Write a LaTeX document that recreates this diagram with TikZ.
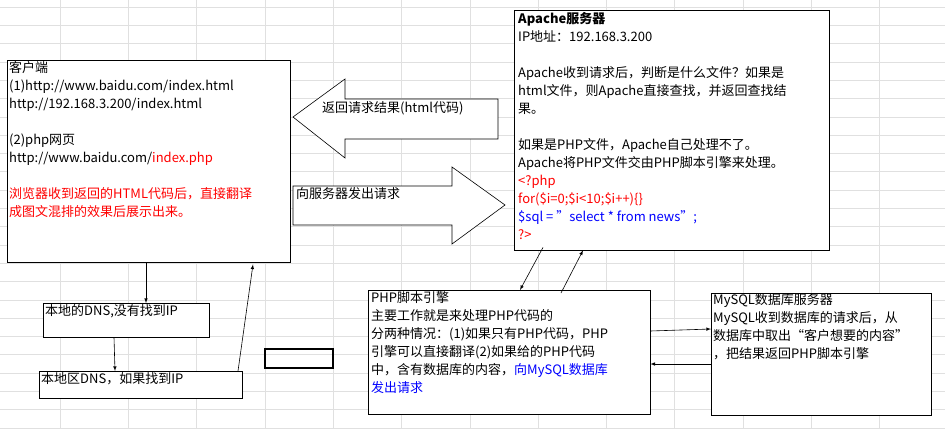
\documentclass[tikz,border=0pt]{standalone}
\usepackage{fontspec}
\setmainfont{Noto Sans CJK SC}
\usetikzlibrary{calc}

\tikzset{%
  >=latex,
  box/.style={draw, fill=white, anchor=north west, inner sep=0pt},
  txt/.style={anchor=north west, inner sep=0pt, align=left,
    font=\fontsize{13}{18}\selectfont},
  gridline/.style={draw=black!12, line width=0.6pt},
  link/.style={->, line width=0.6pt}
}

\begin{document}
\begin{tikzpicture}[x=1pt, y=-1pt]
  \useasboundingbox (0,0) rectangle (945,429);
  % sheet grid
  \foreach \x in {0,...,12} \draw[gridline] (60+68.3*\x,0) -- (60+68.3*\x,429);
  \foreach \y in {0,...,23} \draw[gridline] (0,7+18.3*\y) -- (945,7+18.3*\y);

  % boxes
  \node[box, minimum width=283pt, minimum height=202pt] (client) at (7,60) {};
  \node[box, minimum width=315pt, minimum height=240pt] (apache) at (514,10) {};
  \node[box, minimum width=282pt, minimum height=124pt] (engine) at (368,290) {};
  \node[box, minimum width=220pt, minimum height=122pt] (mysql) at (711,293) {};
  \node[box, minimum width=166pt, minimum height=34pt] (dnsa) at (43,303) {};
  \node[box, minimum width=203pt, minimum height=27pt] (dnsb) at (39,371) {};
  \draw[line width=1.6pt] (265,349) rectangle (333,368);

  % block arrows
  \draw[fill=white, line width=0.6pt] (293,117) -- (345,79) -- (345,99) -- (498,99)
    -- (498,139) -- (345,139) -- (345,158) -- cycle;
  \draw[fill=white, line width=0.6pt] (293,186) -- (452,186) -- (452,167) -- (505,205)
    -- (452,244) -- (452,225) -- (293,225) -- cycle;
  \node[txt] (back) at (322,101) {返回请求结果(html代码)};
  \node[txt] (send) at (296,187) {向服务器发出请求};

  % texts
  \node[txt] (clienttxt) at (9,61) {客户端\\
    (1)http://www.baidu.com/index.html\\
    http://192.168.3.200/index.html\\[18pt]
    (2)php网页\\
    http://www.baidu.com/\textcolor{red}{index.php}\\[18pt]
    \textcolor{red}{浏览器收到返回的HTML代码后，直接翻译}\\
    \textcolor{red}{成图文混排的效果后展示出来。}};
  \node[txt] (apachetxt) at (518,12) {\textbf{Apache服务器}\\
    IP地址：192.168.3.200\\[18pt]
    Apache收到请求后，判断是什么文件？如果是\\
    html文件，则Apache直接查找，并返回查找结\\
    果。\\[18pt]
    如果是PHP文件，Apache自己处理不了。\\
    Apache将PHP文件交由PHP脚本引擎来处理。\\
    \textcolor{red}{<?php}\\
    \textcolor{red}{for(\$i=0;\$i<10;\$i++)\{\}}\\
    \textcolor{blue}{\$sql = ”select * from news”;}\\
    \textcolor{red}{?>}};
  \node[txt] (enginetxt) at (371,291) {PHP脚本引擎\\
    主要工作就是来处理PHP代码的\\
    分两种情况：(1)如果只有PHP代码，PHP\\
    引擎可以直接翻译(2)如果给的PHP代码\\
    中，含有数据库的内容，\textcolor{blue}{向MySQL数据库}\\
    \textcolor{blue}{发出请求}};
  \node[txt] (mysqltxt) at (713,293) {MySQL数据库服务器\\
    MySQL收到数据库的请求后，从\\
    数据库中取出“客户想要的内容”\\
    ，把结果返回PHP脚本引擎};
  \node[txt] (dnsatxt) at (45,304) {本地的DNS,没有找到IP};
  \node[txt] (dnsbtxt) at (41,372) {本地区DNS，如果找到IP};

  % connectors
  \draw[link] (client.south -| 146,0) -- (dnsa.north -| 146,0);
  \draw[link] (dnsa.south -| 114,0) -- (dnsb.north -| 115,0);
  \draw[link] (dnsb.north -| 238,0) -- ($(client.south -| 253,0)+(0,2)$);
  \draw[link] ($(apache.south -| 543,0)+(0,-3)$) -- (engine.north -| 520,0);
  \draw[link] ($(engine.north -| 561,0)+(0,3)$) -- (apache.south -| 583,0);
  \draw[link] (engine.east |- 0,331) -- (mysql.west |- 0,329);
  \draw[link] (mysql.west |- 0,364) -- (engine.east |- 0,364);
\end{tikzpicture}
\end{document}
